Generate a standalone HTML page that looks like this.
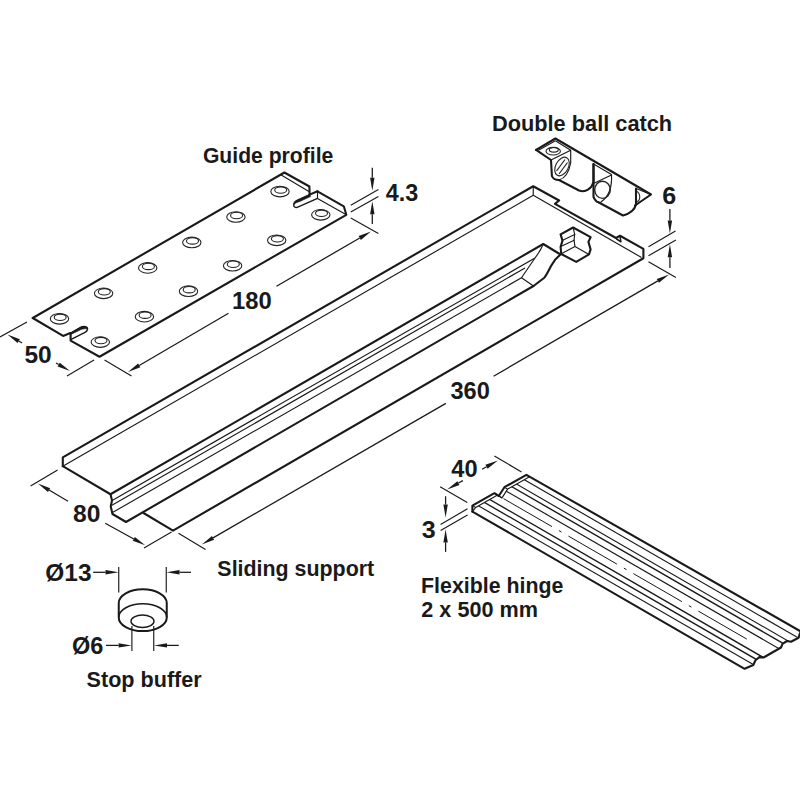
<!DOCTYPE html>
<html><head><meta charset="utf-8"><style>
html,body{margin:0;padding:0;background:#fff;width:800px;height:800px;overflow:hidden}
svg{display:block}
text{font-family:"Liberation Sans",sans-serif;font-weight:bold;fill:#1a1a1a}
</style></head><body>
<svg width="800" height="800" viewBox="0 0 800 800">
<rect width="800" height="800" fill="#fff"/>
<path d="M32.75 318 L284.4 172.5 L309.4 186.5 L309.8 194.6 L317.5 191.3 L343.8 206.3 L346.3 214.8 L99.5 356.75 L70.6 340.6 L70.6 333.1 L63.1 335.9 Z" fill="#fff" stroke="none" stroke-width="0" stroke-linejoin="round" stroke-linecap="round" />
<path d="M32.75 318 L284.4 172.5 L309.4 186.5 L309.6 194.6" fill="none" stroke="#1a1a1a" stroke-width="2.1" stroke-linejoin="round" stroke-linecap="round" />
<path d="M317.5 191.3 L343.8 206.3 L346.3 214.8 L99.5 356.75 L70.6 340.6 L70.6 333.1" fill="none" stroke="#1a1a1a" stroke-width="2.1" stroke-linejoin="round" stroke-linecap="round" />
<path d="M70.3 333.1 L63.1 335.9 L32.75 318" fill="none" stroke="#1a1a1a" stroke-width="2.1" stroke-linejoin="round" stroke-linecap="round" />
<path d="M309.6 194.6 L297.5 200.2 C292.5 202.6 292.5 208.3 297.2 207.4 L317.5 198.4" fill="none" stroke="#1a1a1a" stroke-width="1.38" stroke-linejoin="round" stroke-linecap="round" />
<path d="M309.6 194.6 L297.5 200.2 C294.5 201.6 293.6 203.2 294 204.4 C296 202.6 298 202 300 201.4 L310.5 196.6 Z" fill="#1a1a1a" stroke="#1a1a1a" stroke-width="0.575" stroke-linejoin="round" stroke-linecap="round" />
<path d="M70.6 333.1 L80.5 327.3 C84 325.5 88 326.5 87.5 329.5 C87.2 331 86 332 84.5 332.6 L71.2 339.4" fill="none" stroke="#1a1a1a" stroke-width="1.38" stroke-linejoin="round" stroke-linecap="round" />
<path d="M70.6 333.1 L80.5 327.3 C84 325.5 87.6 326.6 87.6 329.2 C85.5 328.2 83 328.8 80.5 329.8 L71.5 334.2 Z" fill="#1a1a1a" stroke="#1a1a1a" stroke-width="0.575" stroke-linejoin="round" stroke-linecap="round" />
<line x1="280.80" y1="174.80" x2="308.90" y2="191.50" stroke="#1a1a1a" stroke-width="1.15" />
<path d="M309.6 194.6 L317.5 191.3" fill="none" stroke="#1a1a1a" stroke-width="2.1" stroke-linejoin="round" stroke-linecap="round" />
<line x1="317.50" y1="191.30" x2="317.50" y2="198.40" stroke="#1a1a1a" stroke-width="1.15" />
<line x1="317.50" y1="198.40" x2="345.50" y2="214.30" stroke="#1a1a1a" stroke-width="1.15" />
<ellipse cx="59.50" cy="318.80" rx="9.2" ry="5.3" fill="none" stroke="#222" stroke-width="1.1"/>
<ellipse cx="60.20" cy="317.30" rx="6.0" ry="3.2" fill="none" stroke="#222" stroke-width="1.1"/>
<ellipse cx="100.30" cy="342.10" rx="9.2" ry="5.3" fill="none" stroke="#222" stroke-width="1.1"/>
<ellipse cx="101.00" cy="340.60" rx="6.0" ry="3.2" fill="none" stroke="#222" stroke-width="1.1"/>
<ellipse cx="103.60" cy="293.35" rx="9.2" ry="5.3" fill="none" stroke="#222" stroke-width="1.1"/>
<ellipse cx="104.30" cy="291.85" rx="6.0" ry="3.2" fill="none" stroke="#222" stroke-width="1.1"/>
<ellipse cx="144.40" cy="316.65" rx="9.2" ry="5.3" fill="none" stroke="#222" stroke-width="1.1"/>
<ellipse cx="145.10" cy="315.15" rx="6.0" ry="3.2" fill="none" stroke="#222" stroke-width="1.1"/>
<ellipse cx="147.70" cy="267.90" rx="9.2" ry="5.3" fill="none" stroke="#222" stroke-width="1.1"/>
<ellipse cx="148.40" cy="266.40" rx="6.0" ry="3.2" fill="none" stroke="#222" stroke-width="1.1"/>
<ellipse cx="188.50" cy="291.20" rx="9.2" ry="5.3" fill="none" stroke="#222" stroke-width="1.1"/>
<ellipse cx="189.20" cy="289.70" rx="6.0" ry="3.2" fill="none" stroke="#222" stroke-width="1.1"/>
<ellipse cx="191.80" cy="242.45" rx="9.2" ry="5.3" fill="none" stroke="#222" stroke-width="1.1"/>
<ellipse cx="192.50" cy="240.95" rx="6.0" ry="3.2" fill="none" stroke="#222" stroke-width="1.1"/>
<ellipse cx="232.60" cy="265.75" rx="9.2" ry="5.3" fill="none" stroke="#222" stroke-width="1.1"/>
<ellipse cx="233.30" cy="264.25" rx="6.0" ry="3.2" fill="none" stroke="#222" stroke-width="1.1"/>
<ellipse cx="235.90" cy="217.00" rx="9.2" ry="5.3" fill="none" stroke="#222" stroke-width="1.1"/>
<ellipse cx="236.60" cy="215.50" rx="6.0" ry="3.2" fill="none" stroke="#222" stroke-width="1.1"/>
<ellipse cx="276.70" cy="240.30" rx="9.2" ry="5.3" fill="none" stroke="#222" stroke-width="1.1"/>
<ellipse cx="277.40" cy="238.80" rx="6.0" ry="3.2" fill="none" stroke="#222" stroke-width="1.1"/>
<ellipse cx="280.00" cy="191.55" rx="9.2" ry="5.3" fill="none" stroke="#222" stroke-width="1.1"/>
<ellipse cx="280.70" cy="190.05" rx="6.0" ry="3.2" fill="none" stroke="#222" stroke-width="1.1"/>
<ellipse cx="320.80" cy="214.85" rx="9.2" ry="5.3" fill="none" stroke="#222" stroke-width="1.1"/>
<ellipse cx="321.50" cy="213.35" rx="6.0" ry="3.2" fill="none" stroke="#222" stroke-width="1.1"/>
<line x1="350.80" y1="205.30" x2="378.40" y2="189.40" stroke="#1a1a1a" stroke-width="1.15" />
<line x1="350.80" y1="211.90" x2="378.40" y2="196.40" stroke="#1a1a1a" stroke-width="1.15" />
<line x1="372.30" y1="167.80" x2="372.30" y2="177.80" stroke="#1a1a1a" stroke-width="1.265" />
<path d="M372.30 190.80 L370.10 177.80 L374.50 177.80 Z" fill="#1a1a1a"/>
<line x1="372.30" y1="224.00" x2="372.30" y2="214.20" stroke="#1a1a1a" stroke-width="1.265" />
<path d="M372.30 201.20 L374.50 214.20 L370.10 214.20 Z" fill="#1a1a1a"/>
<line x1="350.80" y1="218.00" x2="378.40" y2="233.40" stroke="#1a1a1a" stroke-width="1.15" />
<line x1="104.50" y1="360.00" x2="131.50" y2="376.00" stroke="#1a1a1a" stroke-width="1.15" />
<line x1="228.50" y1="313.25" x2="139.22" y2="365.44" stroke="#1a1a1a" stroke-width="1.265" />
<path d="M128.00 372.00 L138.11 363.54 L140.33 367.34 Z" fill="#1a1a1a"/>
<line x1="276.50" y1="286.25" x2="359.75" y2="238.02" stroke="#1a1a1a" stroke-width="1.265" />
<path d="M371.00 231.50 L360.85 239.92 L358.65 236.11 Z" fill="#1a1a1a"/>
<line x1="0.00" y1="337.00" x2="27.00" y2="322.00" stroke="#1a1a1a" stroke-width="1.15" />
<line x1="67.00" y1="376.00" x2="94.00" y2="360.00" stroke="#1a1a1a" stroke-width="1.15" />
<line x1="22.00" y1="343.00" x2="18.72" y2="341.07" stroke="#1a1a1a" stroke-width="1.265" />
<path d="M7.50 334.50 L19.83 339.18 L17.60 342.97 Z" fill="#1a1a1a"/>
<line x1="56.00" y1="363.00" x2="58.71" y2="364.55" stroke="#1a1a1a" stroke-width="1.265" />
<path d="M70.00 371.00 L57.62 366.46 L59.80 362.64 Z" fill="#1a1a1a"/>
<path d="M62.8 457.4 L534 186 L643.5 249.5 L643.5 258.5 L173 530.6 L144 513.5 L126 522 L112.5 514.4 L111 494 L62.4 466 Z" fill="#fff"/>
<path d="M62.8 466.2 L62.8 457.4 L533.25 186.25 L559.1 200.5 L555 203.9 L616 238 L620 235.75 L643.4 248.9 L643.4 258.25 L173 530.6 L143.5 513" fill="none" stroke="#1a1a1a" stroke-width="2.1" stroke-linejoin="round" stroke-linecap="round" />
<path d="M620 236 L620.9 241.75 L616.5 239" fill="none" stroke="#1a1a1a" stroke-width="1.495" stroke-linejoin="round" stroke-linecap="round" />
<line x1="533.25" y1="186.50" x2="533.25" y2="195.25" stroke="#1a1a1a" stroke-width="1.15" />
<line x1="62.80" y1="466.20" x2="533.25" y2="195.25" stroke="#1a1a1a" stroke-width="1.15" />
<line x1="533.25" y1="195.25" x2="641.50" y2="257.50" stroke="#1a1a1a" stroke-width="1.15" />
<path d="M62.8 466.2 L110.5 494.25 L112 500.5 L110.75 506.5 L112.5 514 L126 522 L533.5 286" fill="none" stroke="#1a1a1a" stroke-width="2.1" stroke-linejoin="round" stroke-linecap="round" />
<path d="M110.5 494.25 L543.25 244 L560.5 254.5 C556 258 553 262 551 266 C548 272 546 276 544 278 L533.5 286" fill="none" stroke="#1a1a1a" stroke-width="2.1" stroke-linejoin="round" stroke-linecap="round" />
<line x1="112.60" y1="500.20" x2="535.00" y2="258.00" stroke="#1a1a1a" stroke-width="1.15" />
<line x1="111.50" y1="505.60" x2="525.00" y2="268.00" stroke="#1a1a1a" stroke-width="1.15" />
<line x1="112.90" y1="512.30" x2="521.50" y2="277.75" stroke="#1a1a1a" stroke-width="1.15" />
<path d="M543.25 244 C541 250 538 254 535 258 L521.5 277.75 L533.5 286" fill="none" stroke="#1a1a1a" stroke-width="1.15" stroke-linejoin="round" stroke-linecap="round" />
<path d="M560.6 234.4 L573.1 227.5 L590.6 237.2 L588.4 241.9 L590.6 249.4 L589 254.4 L576.25 261.9 L561.25 254 L560.6 246.9 L562.5 240.6 Z" fill="#fff" stroke="#1a1a1a" stroke-width="2.1" stroke-linejoin="round" stroke-linecap="round" />
<path d="M573.1 227.5 L574.7 234.4 L574 240 L575 246.6 L589 254.4 M575 246.6 L561.8 253.6" fill="none" stroke="#1a1a1a" stroke-width="1.15" stroke-linejoin="round" stroke-linecap="round" />
<path d="M562.2 240.5 L574.7 234.4 M560.8 246.6 L574.2 240.2" fill="none" stroke="#1a1a1a" stroke-width="1.15" stroke-linejoin="round" stroke-linecap="round" />
<line x1="648.50" y1="246.75" x2="675.50" y2="231.00" stroke="#1a1a1a" stroke-width="1.15" />
<line x1="648.50" y1="255.75" x2="675.90" y2="240.00" stroke="#1a1a1a" stroke-width="1.15" />
<line x1="669.90" y1="209.00" x2="669.90" y2="220.50" stroke="#1a1a1a" stroke-width="1.265" />
<path d="M669.90 233.50 L667.70 220.50 L672.10 220.50 Z" fill="#1a1a1a"/>
<line x1="669.90" y1="268.10" x2="669.90" y2="257.20" stroke="#1a1a1a" stroke-width="1.265" />
<path d="M669.90 244.20 L672.10 257.20 L667.70 257.20 Z" fill="#1a1a1a"/>
<line x1="648.50" y1="261.75" x2="675.90" y2="277.50" stroke="#1a1a1a" stroke-width="1.15" />
<line x1="178.50" y1="533.20" x2="205.50" y2="549.40" stroke="#1a1a1a" stroke-width="1.15" />
<line x1="445.85" y1="403.40" x2="213.06" y2="537.90" stroke="#1a1a1a" stroke-width="1.265" />
<path d="M201.80 544.40 L211.96 535.99 L214.16 539.80 Z" fill="#1a1a1a"/>
<line x1="493.60" y1="376.20" x2="657.85" y2="280.92" stroke="#1a1a1a" stroke-width="1.265" />
<path d="M669.10 274.40 L658.96 282.83 L656.75 279.02 Z" fill="#1a1a1a"/>
<line x1="30.60" y1="485.90" x2="57.60" y2="469.90" stroke="#1a1a1a" stroke-width="1.15" />
<line x1="144.00" y1="548.00" x2="171.50" y2="532.00" stroke="#1a1a1a" stroke-width="1.15" />
<line x1="68.00" y1="501.25" x2="49.08" y2="490.03" stroke="#1a1a1a" stroke-width="1.265" />
<path d="M37.90 483.40 L50.20 488.14 L47.96 491.92 Z" fill="#1a1a1a"/>
<line x1="105.25" y1="523.25" x2="133.81" y2="538.94" stroke="#1a1a1a" stroke-width="1.265" />
<path d="M145.20 545.20 L132.75 540.87 L134.87 537.01 Z" fill="#1a1a1a"/>
<path d="M536.1 149.9 L555.4 138.5 L651 194.5 L635 205.5" fill="#fff" stroke="#1a1a1a" stroke-width="2.1" stroke-linejoin="round" stroke-linecap="round" />
<path d="M536.1 149.9 L551 160 L551.9 176 C553 179 556 180 559 180 L579 190.5 C586 193 592 188 593.5 182 L593.5 164" fill="none" stroke="#1a1a1a" stroke-width="2.1" stroke-linejoin="round" stroke-linecap="round" />
<path d="M593.5 164 L593.5 197 C595 200 597 202 598 202 L623 215.5 C629 214 635 210 636 204 L636 188.5" fill="none" stroke="#1a1a1a" stroke-width="2.1" stroke-linejoin="round" stroke-linecap="round" />
<path d="M551 160 L570.7 150.3 L570.7 163 C569 172 566 178 559 180" fill="none" stroke="#1a1a1a" stroke-width="1.15" stroke-linejoin="round" stroke-linecap="round" />
<line x1="538.50" y1="150.30" x2="555.40" y2="140.80" stroke="#1a1a1a" stroke-width="1.15" />
<line x1="555.40" y1="140.80" x2="570.70" y2="150.30" stroke="#1a1a1a" stroke-width="1.15" />
<ellipse cx="553.2" cy="151.2" rx="7.2" ry="3.8" fill="none" stroke="#222" stroke-width="1.1"/>
<ellipse cx="553.8" cy="149.8" rx="4.5" ry="2.3" fill="none" stroke="#222" stroke-width="1.1"/>
<ellipse cx="562" cy="166.5" rx="6.3" ry="10" transform="rotate(28 562 166.5)" fill="none" stroke="#222" stroke-width="1.1"/>
<line x1="556.50" y1="171.00" x2="565.00" y2="159.50" stroke="#1a1a1a" stroke-width="1.15" />
<line x1="559.00" y1="174.00" x2="567.50" y2="162.50" stroke="#1a1a1a" stroke-width="1.15" />
<ellipse cx="602.5" cy="189.8" rx="7.8" ry="8.6" fill="none" stroke="#222" stroke-width="1.4"/>
<path d="M593.5 164 L611.5 174.5 C612 183 611 195 601 202" fill="none" stroke="#1a1a1a" stroke-width="1.15" stroke-linejoin="round" stroke-linecap="round" />
<line x1="593.50" y1="183.60" x2="611.50" y2="175.00" stroke="#1a1a1a" stroke-width="1.15" />
<line x1="636.00" y1="188.50" x2="651.00" y2="194.50" stroke="#1a1a1a" stroke-width="1.15" />
<path d="M636 191 C641 193 641 201 636 202" fill="none" stroke="#222" stroke-width="1.1"/>
<polygon points="472.40,511.60 472.40,505.60 494.40,493.20 498.80,496.00 504.40,487.20 526.40,474.80 800.00,631.00 800.00,631.00 800.00,633.00 798.60,637.80 791.00,641.80 787.00,641.00 782.50,643.80 781.00,647.50 763.60,657.50 759.40,657.10 755.50,660.20 753.30,665.00 744.60,668.80" fill="#fff"/>
<clipPath id="hc"><polygon points="472.40,520.00 475.60,513.50 475.60,507.50 497.60,495.10 502.00,497.90 507.60,489.10 529.60,476.70 529.60,476.70 810.00,636.00 800.00,631.00 800.00,633.00 798.60,637.80 791.00,641.80 787.00,641.00 782.50,643.80 781.00,647.50 763.60,657.50 759.40,657.10 755.50,660.20 753.30,665.00 744.60,668.80"/></clipPath>
<path d="M472.4 511.6 L472.4 505.6 L494.4 493.2 L498.8 496 L504.4 487.2 L526.4 474.8 L800 631" fill="none" stroke="#1a1a1a" stroke-width="2.1" stroke-linejoin="round" stroke-linecap="round" />
<path d="M472.4 511.6 L744.6 668.8 L753.3 665 L755.5 660.2 L759.4 657.1 L763.6 657.5 L781 647.5 L782.5 643.8 L787 641 L791 641.8 L798.6 637.8 L800 633" fill="none" stroke="#1a1a1a" stroke-width="2.1" stroke-linejoin="round" stroke-linecap="round" />
<path d="M472.40 511.60 L475.60 507.50 L497.60 495.10 L502.00 497.90 L507.60 489.10 L529.60 476.70" fill="none" stroke="#1a1a1a" stroke-width="1.15" stroke-linejoin="round" stroke-linecap="round" />
<line x1="472.40" y1="505.60" x2="475.60" y2="507.50" stroke="#1a1a1a" stroke-width="1.035" />
<line x1="494.40" y1="493.20" x2="497.60" y2="495.10" stroke="#1a1a1a" stroke-width="1.035" />
<line x1="498.80" y1="496.00" x2="502.00" y2="497.90" stroke="#1a1a1a" stroke-width="1.035" />
<line x1="504.40" y1="487.20" x2="507.60" y2="489.10" stroke="#1a1a1a" stroke-width="1.035" />
<line x1="526.40" y1="474.80" x2="529.60" y2="476.70" stroke="#1a1a1a" stroke-width="1.035" />
<g clip-path="url(#hc)">
<line x1="440.00" y1="483.58" x2="820.00" y2="703.03" stroke="#1a1a1a" stroke-width="1.15" />
<line x1="440.00" y1="476.79" x2="820.00" y2="696.24" stroke="#1a1a1a" stroke-width="1.38" />
<line x1="440.00" y1="470.77" x2="820.00" y2="690.22" stroke="#1a1a1a" stroke-width="1.38" />
<line x1="440.00" y1="452.89" x2="820.00" y2="672.34" stroke="#1a1a1a" stroke-width="1.15" />
<line x1="440.00" y1="445.22" x2="820.00" y2="664.67" stroke="#1a1a1a" stroke-width="1.38" />
<line x1="440.00" y1="439.94" x2="820.00" y2="659.39" stroke="#1a1a1a" stroke-width="1.15" />
<line x1="440.00" y1="431.04" x2="820.00" y2="650.49" stroke="#1a1a1a" stroke-width="1.15" />
</g>
<line x1="503.5" y1="498.6" x2="752" y2="642.1" stroke="#1a1a1a" stroke-width="1.0" stroke-dasharray="56 8 3 8"/>
<line x1="440.10" y1="486.75" x2="467.25" y2="502.50" stroke="#1a1a1a" stroke-width="1.15" />
<line x1="494.40" y1="456.10" x2="521.50" y2="471.90" stroke="#1a1a1a" stroke-width="1.15" />
<line x1="462.90" y1="480.60" x2="458.46" y2="483.07" stroke="#1a1a1a" stroke-width="1.265" />
<path d="M447.10 489.40 L457.39 481.15 L459.53 485.00 Z" fill="#1a1a1a"/>
<line x1="482.10" y1="469.25" x2="486.53" y2="466.80" stroke="#1a1a1a" stroke-width="1.265" />
<path d="M497.90 460.50 L487.59 468.72 L485.46 464.87 Z" fill="#1a1a1a"/>
<line x1="440.60" y1="524.40" x2="467.50" y2="508.75" stroke="#1a1a1a" stroke-width="1.15" />
<line x1="440.60" y1="530.60" x2="467.50" y2="515.00" stroke="#1a1a1a" stroke-width="1.15" />
<line x1="445.60" y1="496.25" x2="445.60" y2="504.50" stroke="#1a1a1a" stroke-width="1.265" />
<path d="M445.60 517.50 L443.40 504.50 L447.80 504.50 Z" fill="#1a1a1a"/>
<line x1="445.60" y1="551.90" x2="445.60" y2="542.40" stroke="#1a1a1a" stroke-width="1.265" />
<path d="M445.60 529.40 L447.80 542.40 L443.40 542.40 Z" fill="#1a1a1a"/>
<path d="M118.75 603 A24 13.7 0 0 1 166.75 603 L166.75 617.4 A24 13.7 0 0 1 118.75 617.4 Z" fill="#fff" stroke="#1a1a1a" stroke-width="2"/>
<path d="M118.75 617.4 A24 13.7 0 0 1 166.75 617.4" fill="none" stroke="#1a1a1a" stroke-width="1.6"/>
<ellipse cx="142.5" cy="621.25" rx="11.5" ry="6.3" fill="none" stroke="#1a1a1a" stroke-width="1.4"/>
<line x1="118.75" y1="567.00" x2="118.75" y2="592.50" stroke="#1a1a1a" stroke-width="1.15" />
<line x1="166.25" y1="567.00" x2="166.25" y2="592.50" stroke="#1a1a1a" stroke-width="1.15" />
<line x1="93.20" y1="572.30" x2="105.50" y2="572.30" stroke="#1a1a1a" stroke-width="1.265" />
<path d="M118.50 572.30 L105.50 574.50 L105.50 570.10 Z" fill="#1a1a1a"/>
<line x1="191.00" y1="572.30" x2="179.50" y2="572.30" stroke="#1a1a1a" stroke-width="1.265" />
<path d="M166.50 572.30 L179.50 570.10 L179.50 574.50 Z" fill="#1a1a1a"/>
<line x1="131.90" y1="626.00" x2="131.90" y2="651.00" stroke="#1a1a1a" stroke-width="1.15" />
<line x1="153.75" y1="626.00" x2="153.75" y2="651.00" stroke="#1a1a1a" stroke-width="1.15" />
<line x1="106.00" y1="645.40" x2="118.60" y2="645.40" stroke="#1a1a1a" stroke-width="1.265" />
<path d="M131.60 645.40 L118.60 647.60 L118.60 643.20 Z" fill="#1a1a1a"/>
<line x1="178.75" y1="645.40" x2="167.00" y2="645.40" stroke="#1a1a1a" stroke-width="1.265" />
<path d="M154.00 645.40 L167.00 643.20 L167.00 647.60 Z" fill="#1a1a1a"/>
<text x="202.91" y="162.9" font-size="21.5" textLength="130.42" lengthAdjust="spacingAndGlyphs">Guide profile</text>
<text x="491.97" y="130.8" font-size="21.5" textLength="180.21" lengthAdjust="spacingAndGlyphs">Double ball catch</text>
<text x="385.66" y="200.6" font-size="23.5" textLength="32.5" lengthAdjust="spacingAndGlyphs">4.3</text>
<text x="662.28" y="203.8" font-size="23.5" textLength="13.96" lengthAdjust="spacingAndGlyphs">6</text>
<text x="231.96" y="308.9" font-size="23.5" textLength="39.71" lengthAdjust="spacingAndGlyphs">180</text>
<text x="24.4" y="363.3" font-size="23.5" textLength="27.29" lengthAdjust="spacingAndGlyphs">50</text>
<text x="450.4" y="399.2" font-size="23.5" textLength="39.37" lengthAdjust="spacingAndGlyphs">360</text>
<text x="72.98" y="521.5" font-size="23.5" textLength="27.38" lengthAdjust="spacingAndGlyphs">80</text>
<text x="451.29" y="476.6" font-size="23.5" textLength="26.26" lengthAdjust="spacingAndGlyphs">40</text>
<text x="421.69" y="537.6" font-size="23.5" textLength="13.92" lengthAdjust="spacingAndGlyphs">3</text>
<text x="45.27" y="580.9" font-size="23.5" textLength="46.22" lengthAdjust="spacingAndGlyphs">Ø13</text>
<text x="217.37" y="576.3" font-size="21.5" textLength="156.85" lengthAdjust="spacingAndGlyphs">Sliding support</text>
<text x="421.06" y="592.8" font-size="21.5" textLength="142.3" lengthAdjust="spacingAndGlyphs">Flexible hinge</text>
<text x="421.37" y="617.3" font-size="21.5" textLength="116.49" lengthAdjust="spacingAndGlyphs">2 x 500 mm</text>
<text x="71.96" y="654.2" font-size="23.5" textLength="31.43" lengthAdjust="spacingAndGlyphs">Ø6</text>
<text x="86.6" y="686.6" font-size="21.5" textLength="115.09" lengthAdjust="spacingAndGlyphs">Stop buffer</text>
</svg></body></html>
